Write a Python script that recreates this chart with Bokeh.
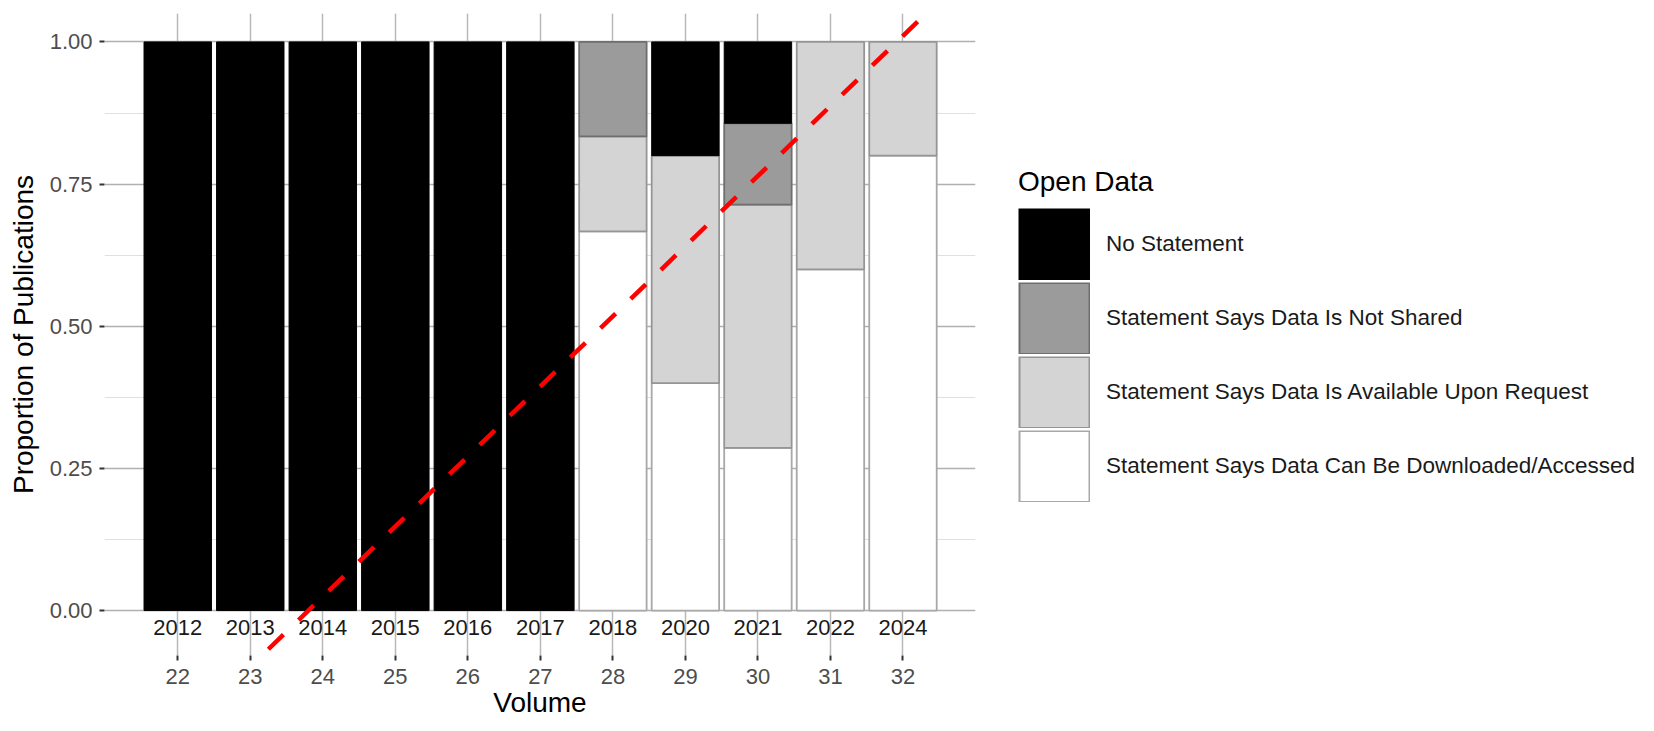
import numpy as np
from bokeh.plotting import figure
from bokeh.models import Range1d, FixedTicker, Legend, LegendItem, NumeralTickFormatter
from bokeh.core.properties import value
from bokeh.embed import file_html
from bokeh.resources import INLINE

# ---- data ----
volumes = [22, 23, 24, 25, 26, 27, 28, 29, 30, 31, 32]
years = ["2012", "2013", "2014", "2015", "2016", "2017", "2018", "2020", "2021", "2022", "2024"]
downloaded   = [0, 0, 0, 0, 0, 0, 0.667, 0.400, 0.286, 0.600, 0.800]
upon_request = [0, 0, 0, 0, 0, 0, 0.167, 0.400, 0.428, 0.400, 0.200]
not_shared   = [0, 0, 0, 0, 0, 0, 0.166, 0.000, 0.143, 0.000, 0.000]
no_statement = [1, 1, 1, 1, 1, 1, 0.000, 0.200, 0.143, 0.000, 0.000]
# dashed red trend line (value at its two ends)
trend_volume = [22, 33]
trend_share = [-0.222, 1.134]

FONT = "Liberation Sans"

p = figure(frame_width=871, frame_height=642,
           x_range=Range1d(20.99, 33.0), y_range=Range1d(-0.079, 1.05),
           output_backend="svg", toolbar_location=None,
           min_border_top=13, min_border_left=104, min_border_bottom=70, min_border_right=10)
p.outline_line_color = None
p.background_fill_color = "white"

series = [
    ("Statement Says Data Can Be Downloaded/Accessed", downloaded, "#FFFFFF", "#A8A8A8"),
    ("Statement Says Data Is Available Upon Request", upon_request, "#D4D4D4", "#959595"),
    ("Statement Says Data Is Not Shared", not_shared, "#9B9B9B", "#6E6E6E"),
    ("No Statement", no_statement, "#000000", "#000000"),
]

NAN = np.array([np.nan])
x = np.array(volumes, dtype=float)
bottom = np.zeros(len(volumes))
key_renderers = {}
for label, vals, fill, line in series:
    v = np.array(vals, dtype=float)
    top = bottom + v
    m = v > 0
    p.vbar(x=x[m], bottom=bottom[m], top=top[m], width=0.93,
           fill_color=fill, line_color=line, line_width=1.8 if fill != "#000000" else 1)
    bottom = top
    # legend key swatches (renderers without visible data: full-size square keys)
    outer = p.line(x=NAN, y=NAN, line_color=line, line_width=72)
    rs = [outer]
    if fill != line:
        inner = p.line(x=NAN, y=NAN, line_color=fill, line_width=69,
                       line_dash="68 1000", line_dash_offset=-2)
        rs.append(inner)
    key_renderers[label] = rs

p.line(x=trend_volume, y=trend_share, line_color="#FF0000", line_width=4.5, line_dash="21 21")

p.text(x=volumes, y=[-0.03] * len(volumes), text=years, text_align="center",
       text_baseline="middle", text_font=value(FONT), text_font_size="22px", text_color="#1A1A1A")

# grids
yt = FixedTicker(ticks=[0, 0.25, 0.5, 0.75, 1.0], minor_ticks=[0.125, 0.375, 0.625, 0.875])
p.yaxis.ticker = yt
p.ygrid.ticker = yt
p.ygrid.grid_line_color = "#B0B0B0"
p.ygrid.grid_line_width = 1.5
p.ygrid.minor_grid_line_color = "#E0E0E0"
p.ygrid.minor_grid_line_width = 1.2
xt = FixedTicker(ticks=volumes, minor_ticks=[])
p.xaxis.ticker = xt
p.xgrid.ticker = xt
p.xgrid.grid_line_color = "#B8B8B8"
p.xgrid.grid_line_width = 1.5

# axes
p.yaxis.formatter = NumeralTickFormatter(format="0.00")
for ax in (p.xaxis[0], p.yaxis[0]):
    ax.axis_line_color = None
    ax.major_tick_in = 0
    ax.major_tick_out = 5
    ax.major_tick_line_color = "#333333"
    ax.major_tick_line_width = 2
    ax.minor_tick_line_color = None
    ax.major_label_text_font = FONT
    ax.major_label_text_font_size = "22px"
    ax.major_label_text_color = "#4D4D4D"
    ax.axis_label_text_font = FONT
    ax.axis_label_text_font_size = "28px"
    ax.axis_label_text_font_style = "normal"
    ax.axis_label_text_color = "#000000"
p.yaxis.axis_label = "Proportion of Publications"
p.yaxis.major_label_standoff = 7
p.yaxis.axis_label_standoff = 8
p.xaxis.axis_label = "Volume"
p.xaxis.major_label_standoff = 8
p.xaxis.axis_label_standoff = 0

order = ["No Statement", "Statement Says Data Is Not Shared",
         "Statement Says Data Is Available Upon Request",
         "Statement Says Data Can Be Downloaded/Accessed"]
legend = Legend(items=[LegendItem(label=k, renderers=key_renderers[k]) for k in order],
                title="Open Data", location=(43, 153))
legend.glyph_width = 72
legend.glyph_height = 72
legend.spacing = 2
legend.label_standoff = 16
legend.label_text_font = FONT
legend.label_text_font_size = "22.5px"
legend.label_text_color = "#1A1A1A"
legend.title_text_font = FONT
legend.title_text_font_size = "28px"
legend.title_text_font_style = "normal"
legend.title_text_color = "#000000"
legend.title_standoff = 10
legend.padding = 0
legend.margin = 0
legend.border_line_color = None
legend.background_fill_alpha = 0
p.add_layout(legend, "right")

open("out.html", "w").write(file_html(p, INLINE))
